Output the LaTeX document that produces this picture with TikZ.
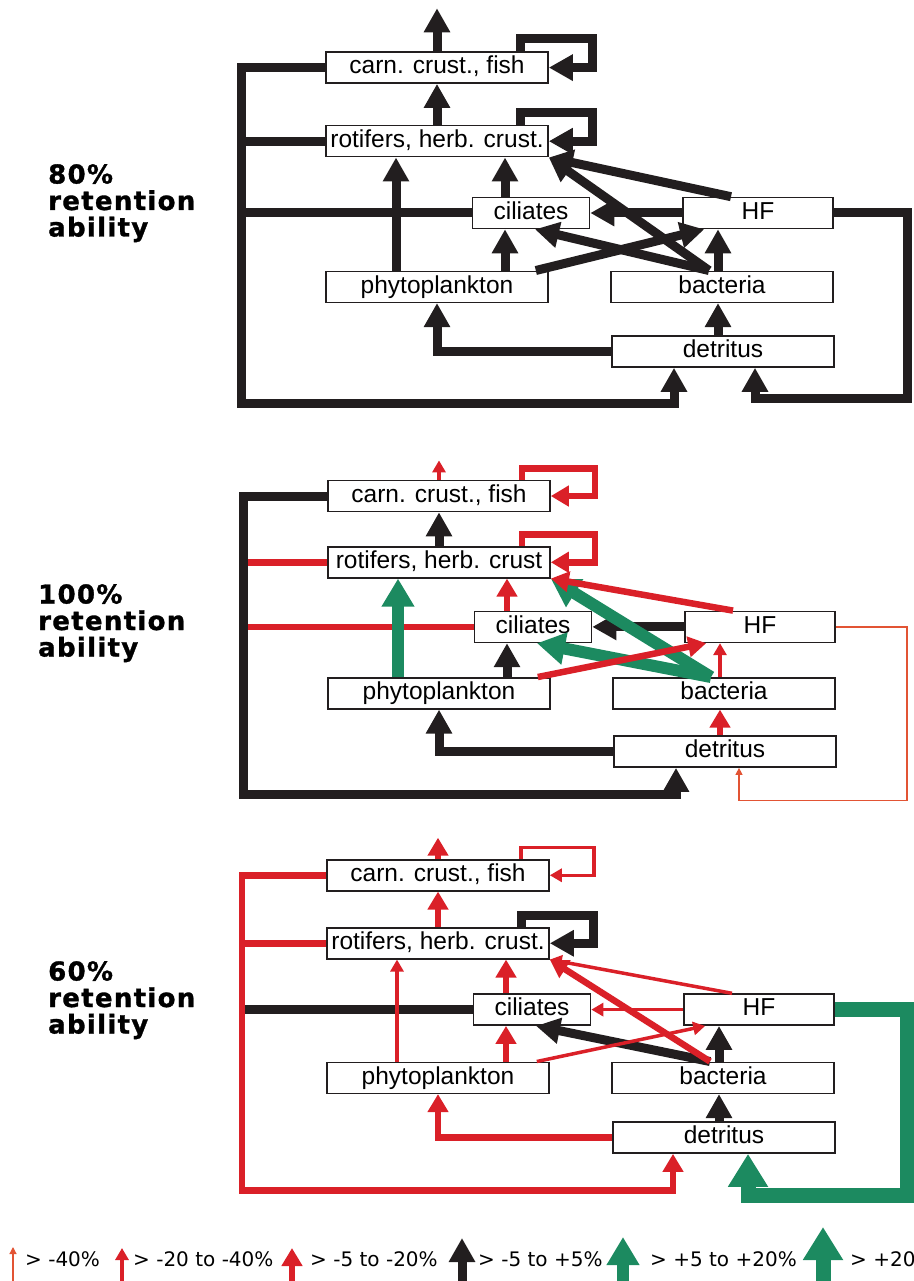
\documentclass[tikz,border=0pt]{standalone}
\usepackage{fontspec}
\setmainfont{Liberation Sans}
\newfontfamily\headfont[LetterSpace=5,FakeBold=1.2]{DejaVu Sans Bold}
\newfontfamily\keyfont{DejaVu Sans}
\usetikzlibrary{arrows.meta}
\definecolor{webred}{RGB}{218,32,40}
\definecolor{webgreen}{RGB}{28,138,96}
\definecolor{webblack}{RGB}{34,30,31}
\definecolor{weborange}{RGB}{226,84,52}
\tikzset{
    box/.style={draw=webblack, line width=1.6pt, fill=white, minimum height=31pt, inner sep=0pt,
        text height=17.5pt, text depth=5pt, font=\fontsize{24.5}{28}\selectfont},
    lbl/.style={anchor=north west, align=left, inner sep=0pt,
        font=\headfont\fontsize{26}{26.5}\selectfont},
    key/.style={anchor=base west, inner sep=0pt, font=\keyfont\fontsize{20}{24}\selectfont},
    vthin/.style={draw=weborange, line width=1.2pt, -{Triangle[width=7pt,length=7pt]}},
    rthin/.style={draw=webred, line width=3.5pt, -{Triangle[width=13pt,length=12pt]}},
    rmed/.style={draw=webred, line width=6.5pt, -{Triangle[width=20pt,length=18pt]}},
    blk/.style={draw=webblack, line width=9pt, -{Triangle[width=25pt,length=24pt]}},
    gmed/.style={draw=webgreen, line width=12pt, -{Triangle[width=31pt,length=28pt]}},
    gbig/.style={draw=webgreen, line width=15pt, -{Triangle[width=38pt,length=33pt]}},
}
\newcommand\webnodes[2]{%
    \node[box, minimum width=222pt] (#1-carn) at (437,67.6) {carn. crust., fish};
    \node[box, minimum width=222pt] (#1-rot) at (437,141.2) {#2};
    \node[box, minimum width=117pt] (#1-cil) at (531,213) {ciliates};
    \node[box, minimum width=150pt] (#1-hf) at (758,213) {HF};
    \node[box, minimum width=222pt] (#1-phy) at (437,286.8) {phytoplankton};
    \node[box, minimum width=222pt] (#1-bac) at (722,286.8) {bacteria};
    \node[box, minimum width=222pt] (#1-det) at (723,351.5) {detritus};
}
\begin{document}
\begin{tikzpicture}[x=1pt, y=-1pt]
                    \useasboundingbox (0,0) rectangle (913,1281);

                    \node[lbl] (lbl80) at (48,164) {80\%\\retention\\ability};
                    \node[lbl] (lbl100) at (38,584) {100\%\\retention\\ability};
                    \node[lbl] (lbl60) at (48,961) {60\%\\retention\\ability};

                    \begin{scope}
                        \webnodes{a}{rotifers, herb. crust.}
                        \coordinate (a-out) at ([yshift=43pt]a-carn.north);
                        \coordinate (a-bl) at (241,403);
                        \coordinate (a-br) at (907,398);

                        \draw[blk] (a-carn.north) -- (a-out);
                        \draw[blk] ([xshift=83pt]a-carn.north) -- ++(0,-12.5) -| ([xshift=44pt]a-carn.east) -- (a-carn.east);
                        \draw[blk] (a-rot.north) -- (a-carn.south);
                        \draw[blk] ([xshift=83pt]a-rot.north) -- ++(0,-12.5) -| ([xshift=44pt]a-rot.east) -- (a-rot.east);
                        \draw[blk,-] (a-rot.west) -- (a-rot.west -| a-bl);
                        \draw[blk,-] (a-cil.west) -- (a-cil.west -| a-bl);
                        \draw[blk] (a-carn.west) -| (a-bl) -| ([xshift=-49pt]a-det.south);
                        \draw[blk] ([xshift=-41pt]a-phy.north) -- ([xshift=-41pt]a-rot.south);
                        \draw[blk] ([xshift=68pt]a-phy.north) -- ([xshift=-26pt]a-cil.south);
                        \draw[blk] ([xshift=-26pt]a-cil.north) -- ([xshift=68pt]a-rot.south);
                        \draw[blk] (a-hf.west) -- (a-cil.east);
                        \draw[blk] ([xshift=-27pt]a-hf.north) -- (a-rot.south east);
                        \draw[blk] ([xshift=-13pt]a-bac.north) -- (a-rot.south east);
                        \draw[blk] ([xshift=-13pt]a-bac.north) -- ([xshift=4pt]a-cil.south);
                        \draw[blk] ([xshift=-13pt]a-phy.north east) -- ([xshift=22pt]a-hf.south west);
                        \draw[blk] ([xshift=-4pt]a-bac.north) -- ([xshift=-40pt]a-hf.south);
                        \draw[blk] ([xshift=-5pt]a-det.north) -- ([xshift=-4pt]a-bac.south);
                        \draw[blk] (a-det.west) -| (a-phy.south);
                        \draw[blk] (a-hf.east) -| (a-br) -| ([xshift=32pt]a-det.south);
                    \end{scope}

                    \begin{scope}[shift={(2,435.2)}, yscale=0.9]
                        \webnodes{b}{rotifers, herb. crust}
                        \coordinate (b-out) at ([yshift=21.5pt]b-carn.north);
                        \coordinate (b-bl) at (241,399);
                        \coordinate (b-br) at (905,406);

                        \draw[rthin] (b-carn.north) -- (b-out);
                        \draw[rmed] ([xshift=83pt]b-carn.north) -- ++(0,-12.5) -| ([xshift=44pt]b-carn.east) -- (b-carn.east);
                        \draw[blk] (b-rot.north) -- (b-carn.south);
                        \draw[rmed] ([xshift=83pt]b-rot.north) -- ++(0,-12.5) -| ([xshift=44pt]b-rot.east) -- (b-rot.east);
                        \draw[rmed,-] (b-rot.west) -- (b-rot.west -| b-bl);
                        \draw[rmed,-] (b-cil.west) -- (b-cil.west -| b-bl);
                        \draw[blk] (b-carn.west) -| (b-bl) -| ([xshift=-49pt]b-det.south);
                        \draw[gmed] ([xshift=-41pt]b-phy.north) -- ([xshift=-41pt]b-rot.south);
                        \draw[blk] ([xshift=68pt]b-phy.north) -- ([xshift=-26pt]b-cil.south);
                        \draw[rmed] ([xshift=-26pt]b-cil.north) -- ([xshift=68pt]b-rot.south);
                        \draw[blk] (b-hf.west) -- (b-cil.east);
                        \draw[gmed] ([xshift=-13pt]b-bac.north) -- (b-rot.south east);
                        \draw[gmed] ([xshift=-13pt]b-bac.north) -- ([xshift=4pt]b-cil.south);
                        \draw[rmed] ([xshift=-13pt]b-phy.north east) -- ([xshift=22pt]b-hf.south west);
                        \draw[rmed] ([xshift=-27pt]b-hf.north) -- (b-rot.south east);
                        \draw[rthin] ([xshift=-4pt]b-bac.north) -- ([xshift=-40pt]b-hf.south);
                        \draw[rmed] ([xshift=-5pt]b-det.north) -- ([xshift=-4pt]b-bac.south);
                        \draw[blk] (b-det.west) -| (b-phy.south);
                        \draw[vthin] (b-hf.east) -| (b-br) -| ([xshift=14pt]b-det.south);
                    \end{scope}

                    \begin{scope}[shift={(1,812.8)}, yscale=0.924]
                        \webnodes{c}{rotifers, herb. crust.}
                        \coordinate (c-out) at ([yshift=23pt]c-carn.north);
                        \coordinate (c-bl) at (241,409);
                        \coordinate (c-br) at (906,414.5);

                        \draw[rmed] (c-carn.north) -- (c-out);
                        \draw[rthin] ([xshift=83pt]c-carn.north) -- ++(0,-12.5) -| ([xshift=44pt]c-carn.east) -- (c-carn.east);
                        \draw[rmed] (c-rot.north) -- (c-carn.south);
                        \draw[blk] ([xshift=83pt]c-rot.north) -- ++(0,-12.5) -| ([xshift=44pt]c-rot.east) -- (c-rot.east);
                        \draw[rmed,-] (c-rot.west) -- (c-rot.west -| c-bl);
                        \draw[blk,-] (c-cil.west) -- (c-cil.west -| c-bl);
                        \draw[rmed] (c-carn.west) -| (c-bl) -| ([xshift=-51pt]c-det.south);
                        \draw[rthin] ([xshift=-41pt]c-phy.north) -- ([xshift=-41pt]c-rot.south);
                        \draw[rmed] ([xshift=68pt]c-phy.north) -- ([xshift=-26pt]c-cil.south);
                        \draw[rmed] ([xshift=-26pt]c-cil.north) -- ([xshift=68pt]c-rot.south);
                        \draw[rthin] (c-hf.west) -- (c-cil.east);
                        \draw[blk] ([xshift=-13pt]c-bac.north) -- ([xshift=4pt]c-cil.south);
                        \draw[rmed] ([xshift=-13pt]c-bac.north) -- (c-rot.south east);
                        \draw[rthin] ([xshift=-27pt]c-hf.north) -- (c-rot.south east);
                        \draw[rthin] ([xshift=-13pt]c-phy.north east) -- ([xshift=22pt]c-hf.south west);
                        \draw[blk] ([xshift=-4pt]c-bac.north) -- ([xshift=-40pt]c-hf.south);
                        \draw[blk] ([xshift=-5pt]c-det.north) -- ([xshift=-4pt]c-bac.south);
                        \draw[rmed] (c-det.west) -| (c-phy.south);
                        \draw[gbig] (c-hf.east) -| (c-br) -| ([xshift=24pt]c-det.south);
                    \end{scope}

                    \coordinate (k1-s) at (13,1281);
                    \coordinate (k1-t) at (13,1247);
                    \coordinate (k2-s) at (122,1281);
                    \coordinate (k2-t) at (122,1248);
                    \coordinate (k3-s) at (292,1281);
                    \coordinate (k3-t) at (292,1248);
                    \coordinate (k4-s) at (462,1281);
                    \coordinate (k4-t) at (462,1238);
                    \coordinate (k5-s) at (623,1281);
                    \coordinate (k5-t) at (623,1237);
                    \coordinate (k6-s) at (823,1281);
                    \coordinate (k6-t) at (823,1227);
                    \draw[vthin] (k1-s) -- (k1-t);
                    \draw[rthin] (k2-s) -- (k2-t);
                    \draw[rmed] (k3-s) -- (k3-t);
                    \draw[blk] (k4-s) -- (k4-t);
                    \draw[gmed] (k5-s) -- (k5-t);
                    \draw[gbig] (k6-s) -- (k6-t);
                    \node[key] (k1) at (25,1266) {> -40\%};
                    \node[key] (k2) at (133,1266) {> -20 to -40\%};
                    \node[key] (k3) at (310,1266) {> -5 to -20\%};
                    \node[key] (k4) at (478,1266) {> -5 to +5\%};
                    \node[key] (k5) at (650,1266) {> +5 to +20\%};
                    \node[key] (k6) at (850,1266) {> +20};
\end{tikzpicture}
\end{document}
